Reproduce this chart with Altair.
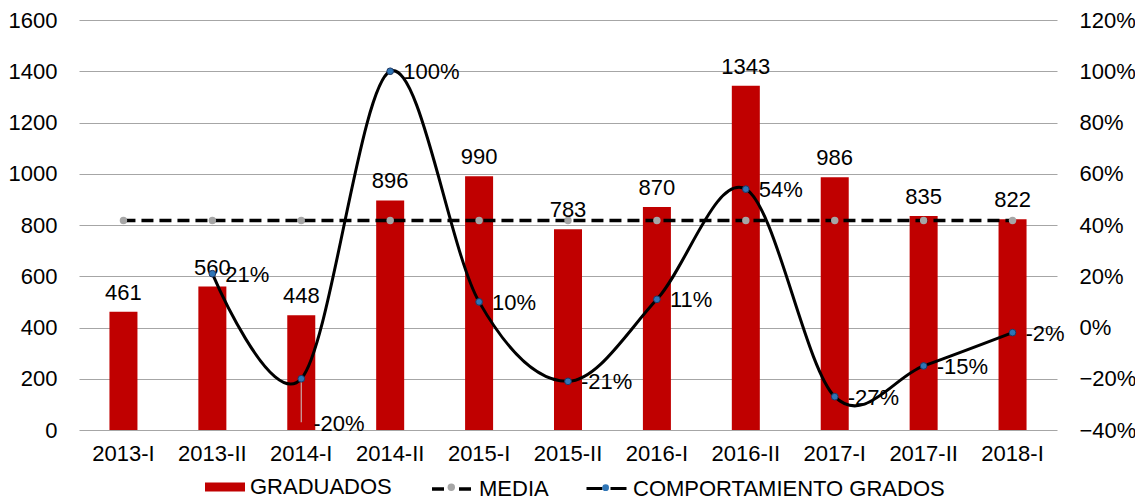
import altair as alt

periodos = ["2013-I", "2013-II", "2014-I", "2014-II", "2015-I", "2015-II",
            "2016-I", "2016-II", "2017-I", "2017-II", "2018-I"]
graduados = [461, 560, 448, 896, 990, 783, 870, 1343, 986, 835, 822]
media = [817.6, 817.6, 817.6, 817.6, 817.6, 817.6, 817.6, 817.6, 817.6, 817.6, 817.6]
comportamiento = [None, 0.21, -0.20, 1.00, 0.10, -0.21, 0.11, 0.54, -0.27, -0.15, -0.02]
etiquetas_pct = ["", "21%", "-20%", "100%", "10%", "-21%", "11%", "54%", "-27%", "-15%", "-2%"]
# end of the leader line drawn for the displaced "-20%" label
guia_fin = [None, None, -0.37, None, None, None, None, None, None, None, None]
left_ticks = [0, 200, 400, 600, 800, 1000, 1200, 1400, 1600]
right_ticks = [-0.4, -0.2, 0, 0.2, 0.4, 0.6, 0.8, 1.0, 1.2]

FONT = "Liberation Sans"
FS = 22
RED = "#C00000"
GRID = "#A6A6A6"
DOT_GRAY = "#A6A6A6"
DOT_BLUE = "#2E75B6"
DOT_EDGE = "#1F3864"

rows = []
for i, p in enumerate(periodos):
    rows.append({
        "periodo": p,
        "graduados": graduados[i],
        "media": media[i],
        "pct": comportamiento[i],
        "pct_label": etiquetas_pct[i],
        "guia": guia_fin[i],
    })
data = alt.Data(values=rows)

# legend layout (pixels, relative to the plot area)
ROW_C = 467
LEG_LABEL = dict(labelFont=FONT, labelFontSize=FS, labelColor="#000000", labelOffset=5,
                 labelLimit=500)


def big_legend(x, path, **kw):
    return alt.Legend(title=None, orient="none", legendX=x, legendY=ROW_C - 20,
                      symbolType=path, symbolSize=1600, padding=0, **LEG_LABEL, **kw)


def dot_legend(x, size, **kw):
    r = size ** 0.5 / 2
    return alt.Legend(title=None, orient="none", legendX=x - r, legendY=ROW_C - r,
                      symbolType="circle", symbolSize=size, padding=0,
                      labelExpr="''", labelFontSize=1, labelOffset=0, **kw)


x_enc = alt.X(
    "periodo:N", sort=periodos,
    scale=alt.Scale(paddingInner=0.685, paddingOuter=0.3425),
    axis=alt.Axis(title=None, labelAngle=0, labelFont=FONT, labelFontSize=FS,
                  labelColor="#000000", labelPadding=13, ticks=False, tickSize=0,
                  domain=False),
)
y_left_scale = alt.Scale(domain=[0, 1600], nice=False, zero=False)
y_right_scale = alt.Scale(domain=[-0.4, 1.2], nice=False, zero=False)
left_axis = alt.Axis(title=None, values=left_ticks, format="d", grid=True, gridColor=GRID,
                     gridWidth=1.2, domain=False, ticks=False, tickSize=0,
                     labelPadding=22, labelFont=FONT, labelFontSize=FS,
                     labelColor="#000000")
right_axis = alt.Axis(title=None, orient="right", format=".0%", values=right_ticks,
                      grid=False, domain=False, ticks=False, tickSize=0,
                      labelPadding=22, labelFont=FONT, labelFontSize=FS,
                      labelColor="#000000")


def yl(field):
    return alt.Y(field, scale=y_left_scale, axis=left_axis, title=None)


def yr(field):
    return alt.Y(field, scale=y_right_scale, axis=right_axis, title=None)


bars = alt.Chart(data).mark_bar().transform_calculate(
    serie="'GRADUADOS'"
).encode(
    x=x_enc,
    y=yl("graduados:Q"),
    fill=alt.Fill("serie:N", scale=alt.Scale(domain=["GRADUADOS"], range=[RED]),
                  legend=big_legend(126, "M-1,-0.22H1V0.22H-1Z",
                                    symbolStrokeWidth=0, symbolFillColor=RED)),
)

bar_labels = alt.Chart(data).mark_text(
    font=FONT, fontSize=FS, color="#000000", baseline="alphabetic", dy=-12
).encode(
    x=x_enc,
    y=yl("graduados:Q"),
    text=alt.Text("graduados:Q"),
)

media_line = alt.Chart(data).mark_line(strokeWidth=3.5, color="#000000").transform_calculate(
    serie="'MEDIA'"
).encode(
    x=x_enc,
    y=yl("media:Q"),
    strokeDash=alt.StrokeDash(
        "serie:N", scale=alt.Scale(domain=["MEDIA"], range=[[12, 6]]),
        legend=big_legend(351, "M-1,0H-0.35M0.35,0H1", symbolStrokeWidth=3.5,
                          symbolStrokeColor="#000000", symbolFillColor="transparent"),
    ),
)

media_pts = alt.Chart(data).mark_point(
    filled=True, color=DOT_GRAY, size=55, opacity=1
).transform_calculate(serie="'MEDIA'").encode(
    x=x_enc,
    y=yl("media:Q"),
    shape=alt.Shape("serie:N", scale=alt.Scale(domain=["MEDIA"], range=["circle"]),
                    legend=dot_legend(372, 55, symbolFillColor=DOT_GRAY,
                                      symbolStrokeWidth=0)),
)

left = alt.layer(bars, media_line, media_pts, bar_labels)

pct_data = alt.Chart(data).transform_filter("datum.pct != null")

guide = pct_data.mark_rule(color="#C9A9A9", strokeWidth=1.2).transform_filter(
    "datum.guia != null"
).encode(
    x=x_enc,
    y=yr("pct:Q"),
    y2="guia:Q",
)

comp_line = pct_data.mark_line(strokeWidth=3, interpolate="cardinal", tension=0).transform_calculate(
    serie="'COMPORTAMIENTO GRADOS'"
).encode(
    x=x_enc,
    y=yr("pct:Q"),
    stroke=alt.Stroke("serie:N",
                      scale=alt.Scale(domain=["COMPORTAMIENTO GRADOS"], range=["#000000"]),
                      legend=big_legend(506, "M-1,0H-0.2M0.2,0H1", symbolStrokeWidth=3,
                                        symbolStrokeColor="#000000",
                                        symbolFillColor="transparent")),
)

comp_pts = pct_data.mark_point(
    filled=True, fill=DOT_BLUE, stroke=DOT_EDGE, strokeWidth=1, size=45, opacity=1
).transform_calculate(serie="'COMPORTAMIENTO GRADOS'").encode(
    x=x_enc,
    y=yr("pct:Q"),
    shape=alt.Shape("serie:N",
                    scale=alt.Scale(domain=["COMPORTAMIENTO GRADOS"], range=["circle"]),
                    legend=dot_legend(526, 45, symbolFillColor=DOT_BLUE,
                                      symbolStrokeColor=DOT_EDGE, symbolStrokeWidth=1)),
)

comp_labels = pct_data.transform_filter("datum.periodo != '2014-I'").mark_text(
    font=FONT, fontSize=FS, color="#000000", align="left", baseline="middle", dx=13, dy=1
).encode(
    x=x_enc,
    y=yr("pct:Q"),
    text="pct_label:N",
)

comp_label_moved = pct_data.transform_filter("datum.periodo == '2014-I'").mark_text(
    font=FONT, fontSize=FS, color="#000000", align="left", baseline="middle", dx=12, dy=45
).encode(
    x=x_enc,
    y=yr("pct:Q"),
    text="pct_label:N",
)

right = alt.layer(guide, comp_line, comp_pts, comp_labels, comp_label_moved)

chart = alt.layer(left, right).resolve_scale(
    y="independent", shape="independent"
).properties(
    width=978, height=410,
    background="#FFFFFF",
    autosize=alt.AutoSizeParams(type="none"),
    padding={"left": 71, "top": 12, "right": 78, "bottom": 70},
).configure_view(stroke=None)

chart.save("out.html", embed_options={"renderer": "svg", "actions": False})
